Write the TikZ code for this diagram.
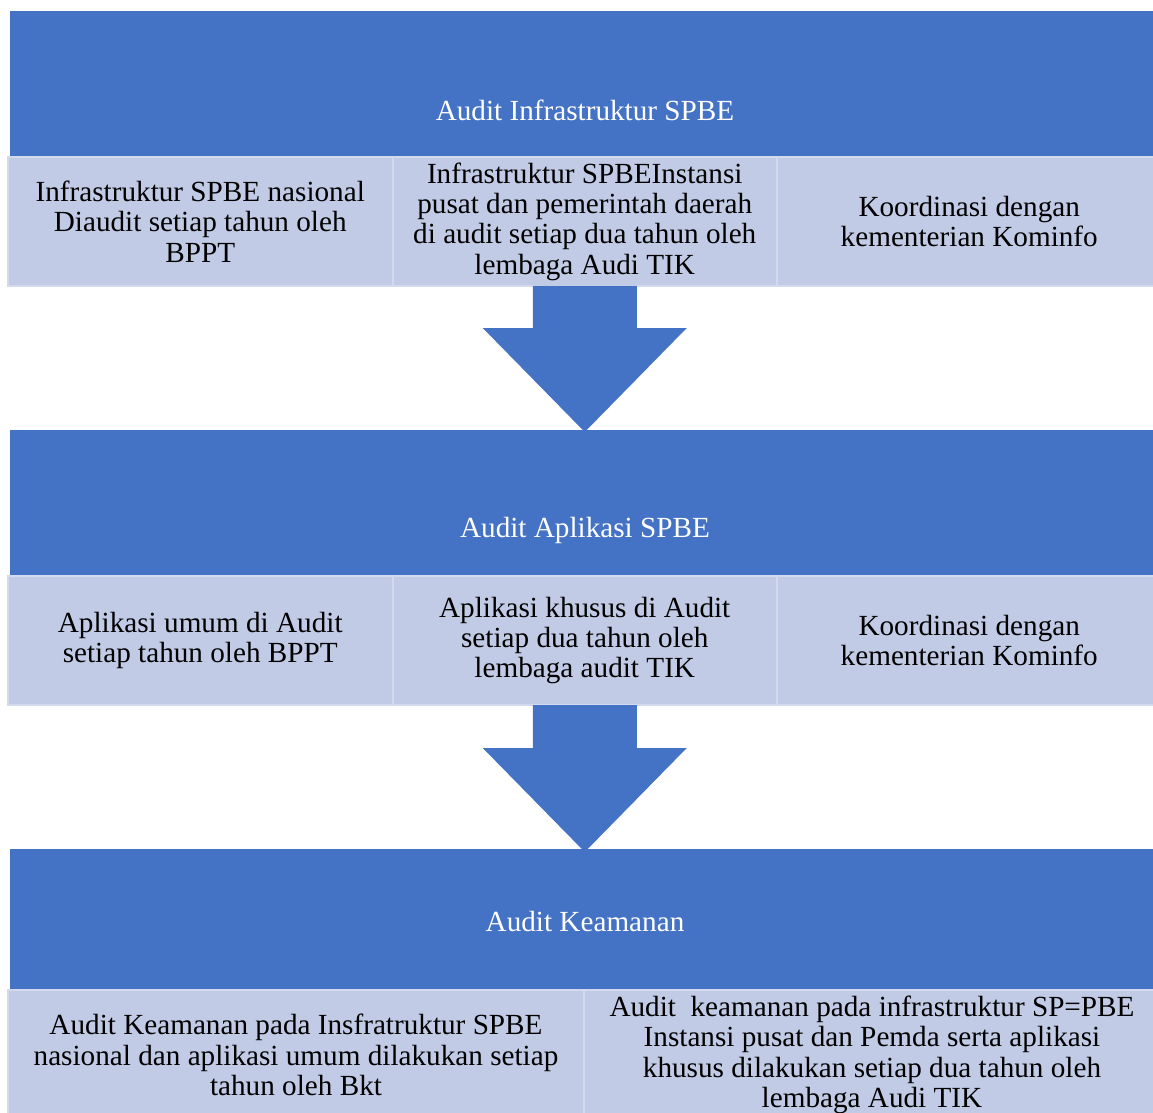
\documentclass[tikz,border=0pt]{standalone}
\usepackage{fontspec}
\setmainfont{Liberation Serif}
\usetikzlibrary{positioning}
\definecolor{barblue}{HTML}{4472C4}
\definecolor{cellblue}{HTML}{C1CBE6}
\definecolor{celledge}{HTML}{D3DAEE}

\begin{document}
\begin{tikzpicture}[
		x=0.5pt, y=-0.5pt,
		every node/.style={
			inner sep=0pt,
			outer sep=0pt,
			font=\fontsize{14.6}{15.15}\selectfont
		},
		bar/.style={
			fill=barblue,
			anchor=north west,
			minimum width=575pt,
			minimum height=73pt
		},
		bartext/.style={
			text=white
		},
		cell/.style={
			fill=cellblue,
			draw=celledge,
			line width=1pt,
			minimum width=192.25pt,
			minimum height=64.5pt,
			align=center
		},
		widecell/.style={
			cell,
			minimum width=288pt,
			minimum height=65pt
		},
		flowarrow/.style={
			fill=barblue
		}
		]
		\path[use as bounding box] (0,0) rectangle (1153,1113);
		\clip (0,0) rectangle (1153,1113);
		
		% Audit Infrastruktur SPBE
		\node[bar] (infra) at (10,11) {};
		\node[bartext] (infra-t) at (585,110) {Audit Infrastruktur SPBE};
		\node[cell, anchor=north west] (inf1) at (8,157) {%
			Infrastruktur SPBE nasional\\
			Diaudit setiap tahun oleh\\
			BPPT};
		\node[cell, right=0pt of inf1] (inf2) {%
			Infrastruktur SPBEInstansi\\
			pusat dan pemerintah daerah\\
			di audit setiap dua tahun oleh\\
			lembaga Audi TIK};
		\node[cell, right=0pt of inf2] (inf3) {%
			Koordinasi dengan\\
			kementerian Kominfo};
		
		% Audit Aplikasi SPBE
		\node[bar] (app) at (10,430) {};
		\node[bartext] (app-t) at (585,530) {Audit Aplikasi SPBE};
		\node[cell, anchor=north west] (app1) at (8,576) {%
			Aplikasi umum di Audit\\
			setiap tahun oleh BPPT};
		\node[cell, right=0pt of app1] (app2) {%
			Aplikasi khusus di Audit\\
			setiap dua tahun oleh\\
			lembaga audit TIK};
		\node[cell, right=0pt of app2] (app3) {%
			Koordinasi dengan\\
			kementerian Kominfo};
		
		% Audit Keamanan
		\node[bar, minimum height=70.5pt] (sec) at (10,849) {};
		\node[bartext] (sec-t) at (585,922) {Audit Keamanan};
		\node[widecell, anchor=north west] (sec1) at (8,990) {%
			Audit Keamanan pada Insfratruktur SPBE\\
			nasional dan aplikasi umum dilakukan setiap\\
			tahun oleh Bkt};
		\node[widecell, right=0pt of sec1] (sec2) {%
			Audit\ \ keamanan pada infrastruktur SP=PBE\\
			Instansi pusat dan Pemda serta aplikasi\\
			khusus dilakukan setiap dua tahun oleh\\
			lembaga Audi TIK};
		
		% Block arrows between the stages
		\fill[flowarrow] (inf2.south) ++(-52,0) -- ++(104,0) -- ++(0,42)
		-- ++(50,0) -- ++(-102,104) -- ++(-102,-104) -- ++(50,0) -- cycle;
		\fill[flowarrow] (app2.south) ++(-52,0) -- ++(104,0) -- ++(0,43)
		-- ++(50,0) -- ++(-102,104) -- ++(-102,-104) -- ++(50,0) -- cycle;
		
		\end{tikzpicture}
\end{document}
